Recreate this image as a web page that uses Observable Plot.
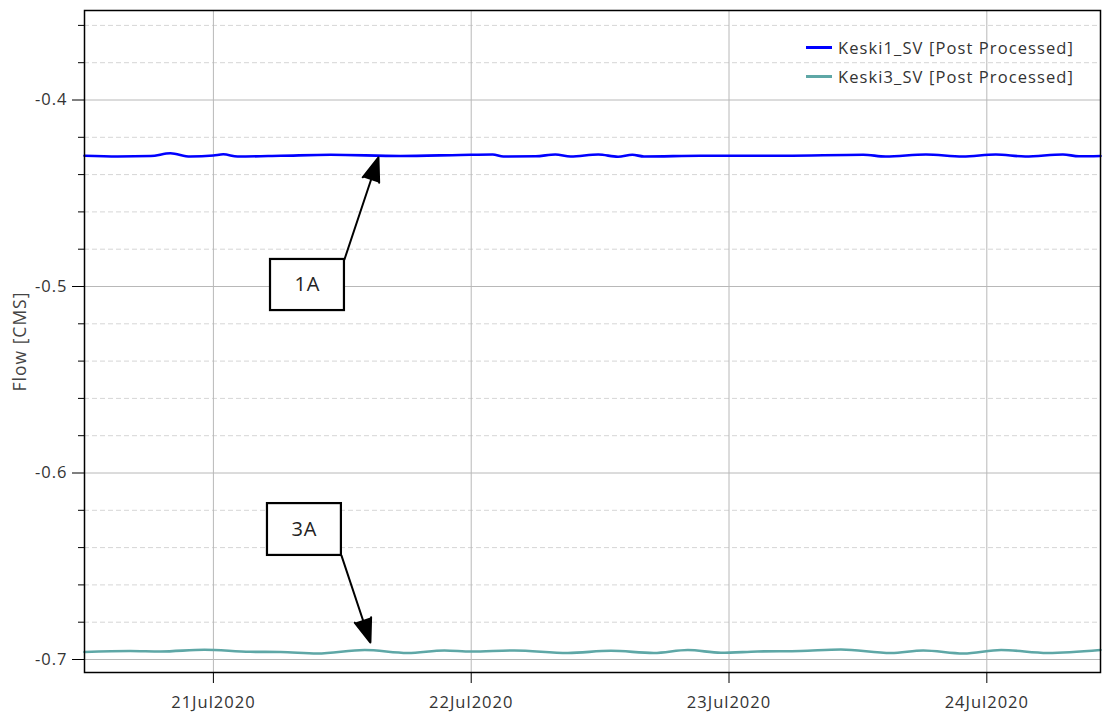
<!DOCTYPE html>
<html>
<head>
<meta charset="utf-8">
<script src="https://cdn.jsdelivr.net/npm/d3@7"></script>
<script src="https://cdn.jsdelivr.net/npm/@observablehq/plot@0.6"></script>
<style>
  html, body { margin: 0; padding: 0; background: #fff; }
  #wrap { position: relative; width: 1102px; height: 715px; }
  #legend { position: absolute; left: 806px; top: 33px; font-family: "Open Sans", sans-serif; font-size: 16.5px; color: #333; letter-spacing: 1.1px; white-space: nowrap; }
  #legend .row { display: flex; align-items: center; height: 29px; }
  #legend .sw { width: 26px; height: 3px; margin-right: 6px; }
</style>
</head>
<body>
<div id="wrap">
  <div id="chart"></div>
  <div id="legend"></div>
</div>
<script>
// Flow series, time stamps in UTC
const keski1Times = ["2020-07-20T12:00","2020-07-20T15:05","2020-07-20T18:10","2020-07-20T20:00","2020-07-20T21:50",
  "2020-07-21T00:00","2020-07-21T00:55","2020-07-21T02:15","2020-07-21T06:15","2020-07-21T10:55","2020-07-21T17:25",
  "2020-07-21T23:00","2020-07-22T02:00","2020-07-22T03:00","2020-07-22T06:00","2020-07-22T07:50","2020-07-22T09:15",
  "2020-07-22T11:50","2020-07-22T13:40","2020-07-22T15:00","2020-07-22T16:05","2020-07-22T21:20","2020-07-23T05:15",
  "2020-07-23T12:30","2020-07-23T14:35","2020-07-23T18:20","2020-07-23T21:45","2020-07-24T00:50","2020-07-24T03:35",
  "2020-07-24T07:05","2020-07-24T08:35","2020-07-24T10:35"];
const keski1Values = [-0.42992,-0.43029,-0.43003,-0.42858,-0.43029,
  -0.42976,-0.42912,-0.43029,-0.42992,-0.42938,-0.43003,
  -0.42949,-0.42922,-0.43029,-0.43019,-0.42922,-0.43029,
  -0.42922,-0.43040,-0.42938,-0.43029,-0.42992,-0.42987,
  -0.42933,-0.43029,-0.42922,-0.43029,-0.42922,-0.43029,
  -0.42922,-0.43019,-0.43003];

const keski3Times = ["2020-07-20T12:00","2020-07-20T16:15","2020-07-20T19:05","2020-07-20T23:10","2020-07-21T03:25",
  "2020-07-21T06:15","2020-07-21T09:40","2020-07-21T14:05","2020-07-21T18:05","2020-07-21T21:30","2020-07-22T00:00",
  "2020-07-22T04:00","2020-07-22T09:00","2020-07-22T13:00","2020-07-22T17:00","2020-07-22T20:10","2020-07-22T23:15",
  "2020-07-23T02:40","2020-07-23T06:40","2020-07-23T10:25","2020-07-23T15:05","2020-07-23T18:05","2020-07-23T21:50",
  "2020-07-24T01:20","2020-07-24T05:40","2020-07-24T10:35"];
const keski3Values = [-0.69598,-0.69544,-0.69571,-0.69480,-0.69587,
  -0.69598,-0.69678,-0.69491,-0.69651,-0.69517,-0.69571,
  -0.69517,-0.69651,-0.69533,-0.69651,-0.69491,-0.69641,
  -0.69571,-0.69544,-0.69464,-0.69651,-0.69517,-0.69678,
  -0.69491,-0.69651,-0.69491];

const seriesNames = ["Keski1_SV [Post Processed]", "Keski3_SV [Post Processed]"];
const seriesColors = ["#0000ff", "#5ea7a6"];

// Axis ticks
const dayTicks = ["2020-07-21", "2020-07-22", "2020-07-23", "2020-07-24"];
const yMajorTicks = [-0.7, -0.6, -0.5, -0.4];
const yMinorTicks = [-0.68, -0.66, -0.64, -0.62, -0.58, -0.56, -0.54, -0.52, -0.48, -0.46, -0.44, -0.42, -0.38, -0.36];

// Callout labels: box extent and arrow from box corner to the series
const calloutLabels = ["1A", "3A"];
const calloutBoxStart = ["2020-07-21T05:19", "2020-07-21T05:02"];
const calloutBoxEnd = ["2020-07-21T12:12", "2020-07-21T11:55"];
const calloutBoxTop = [-0.4855, -0.6164];
const calloutBoxBottom = [-0.5129, -0.6442];
const calloutArrowFromTime = ["2020-07-21T12:12", "2020-07-21T11:55"];
const calloutArrowFromValue = [-0.4855, -0.6442];
const calloutArrowToTime = ["2020-07-21T15:22", "2020-07-21T14:37"];
const calloutArrowToValue = [-0.4308, -0.6909];

const t = s => new Date(s + "Z");
const rows = [
  ...keski1Times.map((d, i) => ({time: t(d), flow: keski1Values[i], series: seriesNames[0]})),
  ...keski3Times.map((d, i) => ({time: t(d), flow: keski3Values[i], series: seriesNames[1]}))
];
const callouts = calloutLabels.map((label, i) => ({
  label,
  x1: t(calloutBoxStart[i]), x2: t(calloutBoxEnd[i]),
  y1: calloutBoxTop[i], y2: calloutBoxBottom[i],
  ax1: t(calloutArrowFromTime[i]), ay1: calloutArrowFromValue[i],
  ax2: t(calloutArrowToTime[i]), ay2: calloutArrowToValue[i]
}));
const days = dayTicks.map(d => t(d + "T00:00"));
const fmtDay = d3.utcFormat("%d%b%Y");

const chart = Plot.plot({
  width: 1102,
  height: 715,
  marginLeft: 84,
  marginTop: 10,
  marginRight: 2,
  marginBottom: 43,
  style: {fontFamily: "'Open Sans', sans-serif", fontSize: "16.5px", color: "#333", background: "#fff", letterSpacing: "1px"},
  x: {type: "utc", domain: [t("2020-07-20T12:00"), t("2020-07-24T10:35")]},
  y: {domain: [-0.70697, -0.35201]},
  color: {domain: seriesNames, range: seriesColors},
  marks: [
    Plot.gridY(yMinorTicks, {stroke: "#d6d6d6", strokeOpacity: 1, strokeDasharray: "5,3"}),
    Plot.gridY(yMajorTicks, {stroke: "#b8b8b8", strokeOpacity: 1}),
    Plot.gridX(days, {stroke: "#b8b8b8", strokeOpacity: 1}),
    Plot.line(rows, {x: "time", y: "flow", z: "series", stroke: "series", strokeWidth: 2.6, curve: "monotone-x"}),
    Plot.frame({stroke: "#000", strokeWidth: 1.5}),
    Plot.axisY(yMinorTicks, {tickSize: 6, tickFormat: () => "", label: null, stroke: "#000"}),
    Plot.axisY(yMajorTicks, {tickSize: 12, tickPadding: 5, tickFormat: d => d.toFixed(1), stroke: "#000", fill: "#333",
      label: null}),
    Plot.axisY({ticks: [], label: "Flow [CMS]", labelAnchor: "center", labelOffset: 71, labelArrow: "none",
      fill: "#444", fontSize: 17.5, letterSpacing: "1.2px"}),
    Plot.axisX(days, {tickSize: 11, tickPadding: 13, tickFormat: fmtDay, label: null, stroke: "#000", fill: "#333"}),
    Plot.arrow(callouts, {x1: "ax1", y1: "ay1", x2: "ax2", y2: "ay2", stroke: "#000", fill: "#000",
      strokeWidth: 2, headLength: 19, headAngle: 40}),
    Plot.rect(callouts, {x1: "x1", x2: "x2", y1: "y1", y2: "y2", fill: "#fff", stroke: "#000", strokeWidth: 2.2}),
    Plot.text(callouts, {x: d => new Date((+d.x1 + +d.x2) / 2), y: d => (d.y1 + d.y2) / 2, text: "label",
      fontSize: 20, fill: "#222", fontFamily: "'Open Sans', sans-serif", letterSpacing: "2px"})
  ]
});
document.getElementById("chart").append(chart);

// Legend in the top-right corner of the plot area
const legend = document.getElementById("legend");
seriesNames.forEach((name, i) => {
  const row = document.createElement("div");
  row.className = "row";
  const sw = document.createElement("div");
  sw.className = "sw";
  sw.style.background = seriesColors[i];
  const label = document.createElement("span");
  label.textContent = name;
  row.append(sw, label);
  legend.append(row);
});
</script>
</body>
</html>
